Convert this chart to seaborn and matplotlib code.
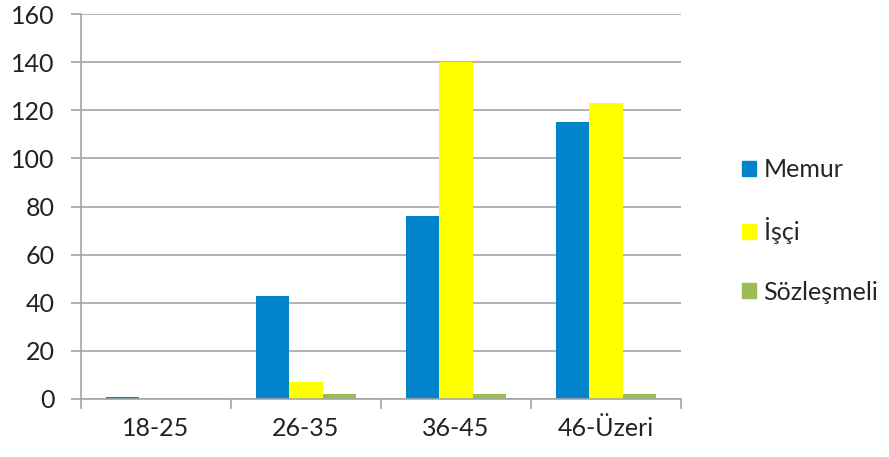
import pandas as pd
import seaborn as sns
import matplotlib.pyplot as plt
from matplotlib.ticker import FixedLocator

# values
age_groups = ["18-25", "26-35", "36-45", "46-Üzeri"]
memur = [1, 43, 76, 115]
isci = [0, 7, 140, 123]
sozlesmeli = [0, 2, 2, 2]
series_names = ["Memur", "İşçi", "Sözleşmeli"]
colors = ["#0284CD", "#FFFF00", "#9BBB59"]

df = pd.DataFrame({
    "grup": age_groups * 3,
    "tur": [n for n in series_names for _ in age_groups],
    "sayi": memur + isci + sozlesmeli,
})

sns.set_theme(style="white")
plt.rcParams["font.family"] = ["Lato", "DejaVu Sans"]

fig = plt.figure(figsize=(8.89, 4.57), dpi=100)
ax = fig.add_axes([0.0911, 0.127, 0.675, 0.842])

sns.barplot(data=df, x="grup", y="sayi", hue="tur", hue_order=series_names,
            palette=colors, width=0.67, saturation=1, ax=ax, legend=False,
            linewidth=0)

grid_c = "#A6A6A6"
ax.set_ylim(0, 160)
ax.set_xlim(-0.5, 3.5)
ax.set_yticks(range(0, 161, 20))
ax.yaxis.grid(True, color=grid_c, linewidth=1.2)
ax.set_axisbelow(True)
ax.set_xlabel("")
ax.set_ylabel("")
for s in ["top", "right"]:
    ax.spines[s].set_visible(False)
for s in ["left", "bottom"]:
    ax.spines[s].set_color(grid_c)
    ax.spines[s].set_linewidth(1.2)

ax.tick_params(axis="y", left=True, length=7, color=grid_c, width=1.2,
               labelsize=18, labelcolor="#222222", pad=12)
ax.tick_params(axis="x", bottom=False, labelsize=18, labelcolor="#222222", pad=7)
ax.xaxis.set_minor_locator(FixedLocator([-0.5, 0.5, 1.5, 2.5, 3.5]))
ax.tick_params(axis="x", which="minor", bottom=True, length=7, color=grid_c, width=1.2)

handles = [plt.Rectangle((0, 0), 1, 1, color=c) for c in colors]
fig.legend(handles, series_names, loc="center left", bbox_to_anchor=(0.821, 0.495),
           frameon=False, fontsize=18, handlelength=0.55, handleheight=0.55,
           handletextpad=0.3, labelspacing=1.45, borderpad=0)

fig.savefig("out.png", dpi=100)
